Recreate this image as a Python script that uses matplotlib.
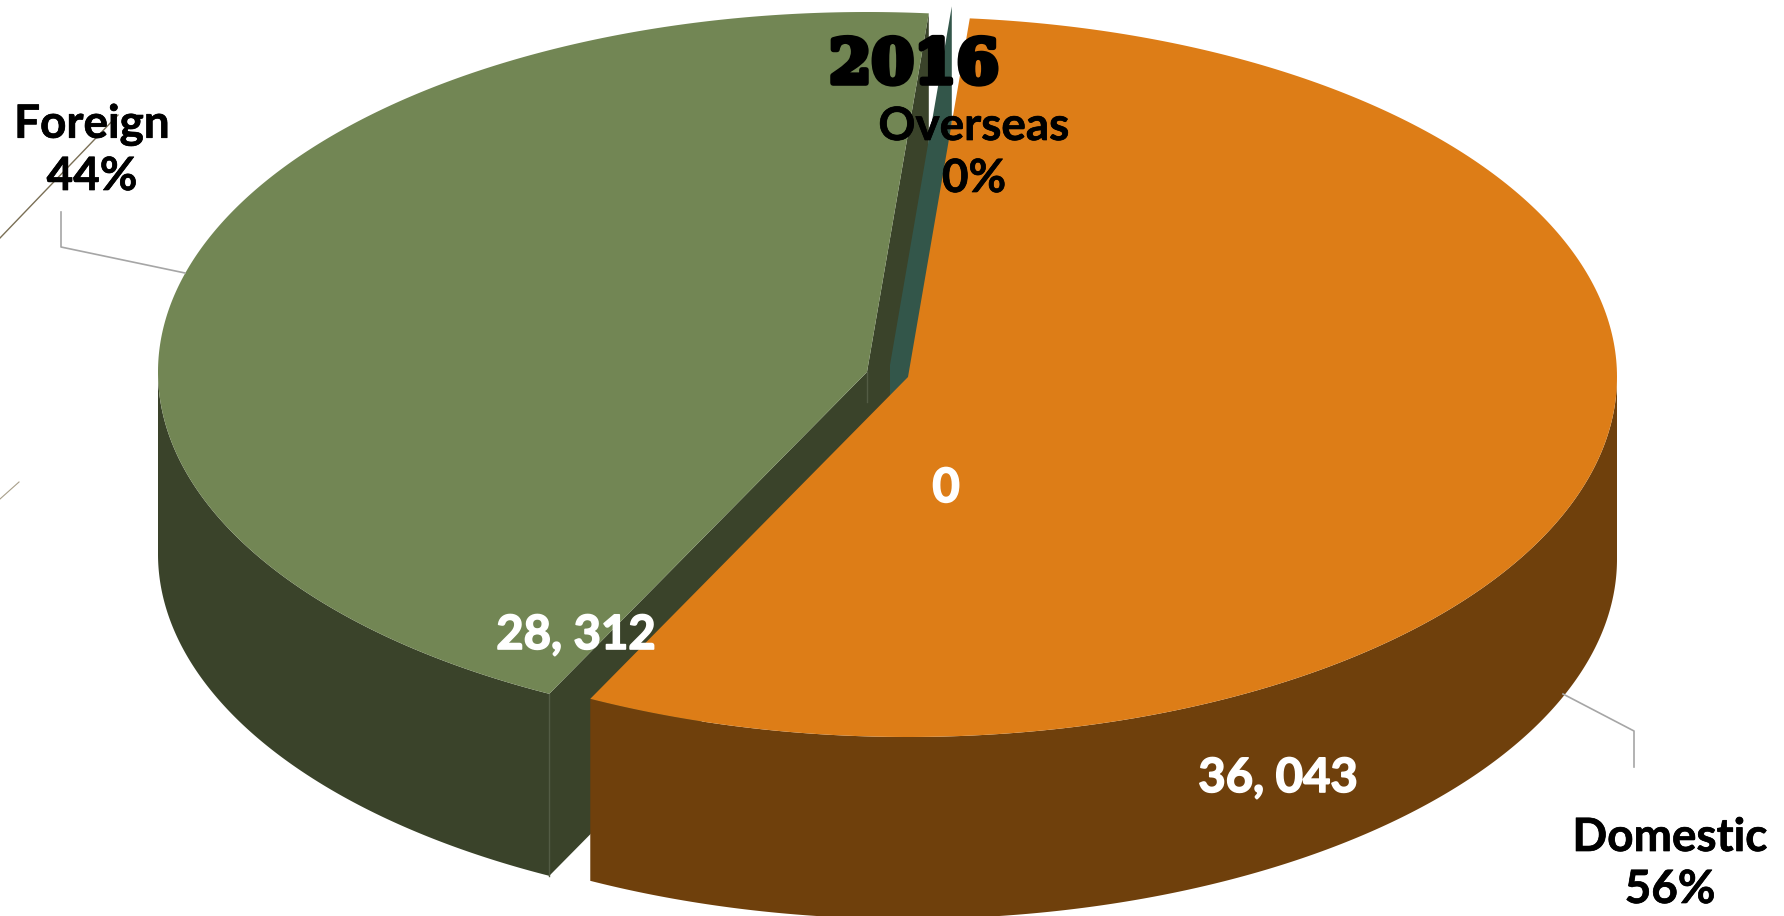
import numpy as np
import matplotlib
matplotlib.use('Agg')
from matplotlib import pyplot as plt
from matplotlib.patches import Polygon
import matplotlib.patheffects as pe

# chart data
categories = ['Domestic', 'Foreign', 'Overseas']
values = [36043, 28312, 0]
value_labels = ['36, 043', '28, 312', '0']
pct_labels = ['56%', '44%', '0%']
title = '2016'

# pie geometry, in pixels of the picture
rx, ry, depth = 709, 360, 182
start = 5.0
centers = [(908, 377), (867, 372), (890, 365)]
top_colors = ['#DD7D17', '#728654', '#33564A']
side_colors = ['#6F400C', '#3A432A', '#33564A']

fig = plt.figure(figsize=(17.84, 9.16), dpi=100)
ax = fig.add_axes([0, 0, 1, 1])
ax.set_xlim(0, 1784)
ax.set_ylim(916, 0)
ax.axis('off')


def rim(c, a0, a1, drop=0):
    # angles run clockwise from 12 o'clock
    a = np.radians(np.linspace(a0, a1, 300))
    return np.column_stack([c[0] + rx * np.sin(a), c[1] - ry * np.cos(a) + drop])


def radial_wall(c, a, color, z):
    edge = rim(c, a, a)[0]
    pts = [c, edge, (edge[0], edge[1] + depth), (c[0], c[1] + depth)]
    ax.add_patch(Polygon(pts, closed=True, fc=color, ec='none', zorder=z))


def outer_wall(c, a0, a1, color, z):
    pts = np.vstack([rim(c, a0, a1), rim(c, a1, a0, depth)])
    ax.add_patch(Polygon(pts, closed=True, fc=color, ec='none', zorder=z))


def top_face(c, a0, a1, color, z):
    pts = np.vstack([[c], rim(c, a0, a1)])
    ax.add_patch(Polygon(pts, closed=True, fc=color, ec='none', zorder=z))


total = sum(values)
spans = [v / total * 360 for v in values]
a_dom_end = start + spans[0]
a_for_end = a_dom_end + spans[1]

# walls first, back to front
radial_wall(centers[1], a_for_end, side_colors[1], 1)
radial_wall(centers[1], a_dom_end, side_colors[1], 2)
outer_wall(centers[1], a_dom_end, 270, side_colors[1], 2)
radial_wall(centers[2], start + spans[2], side_colors[2], 3)
top_face(centers[1], a_dom_end, a_for_end, top_colors[1], 4)
outer_wall(centers[0], 90, a_dom_end, side_colors[0], 5)
top_face(centers[0], start, a_dom_end, top_colors[0], 6)

# faint corner lines on the green slice
g_edge = rim(centers[1], a_dom_end, a_dom_end)[0]
ax.plot([g_edge[0], g_edge[0]], [g_edge[1], g_edge[1] + depth], color='#535C44', lw=1, zorder=3)
ax.plot([centers[1][0], centers[1][0]], [centers[1][1], centers[1][1] + 30], color='#535C44', lw=1, zorder=3)

# leader lines
ax.plot([61, 61, 185], [212, 247, 273], color='#A6A6A6', lw=1.2, zorder=7)
ax.plot([1563, 1634, 1634], [694, 731, 767], color='#A6A6A6', lw=1.2, zorder=7)
ax.plot([0, 118], [238, 115], color='#7A6F55', lw=1, zorder=7)
ax.plot([0, 19], [499, 482], color='#A89F8A', lw=0.8, zorder=7)

# data labels
for (x, y), s in zip([(1278, 778), (576, 635), (946, 488)], value_labels):
    ax.text(x, y, s, color='white', family='Lato', fontweight='bold', fontsize=34,
            ha='center', va='center', zorder=8,
            path_effects=[pe.withStroke(linewidth=1.2, foreground='white')])

# category labels
for (x, y), name, p in zip([(1670, 838), (92, 125), (974, 127)], categories, pct_labels):
    for yy, s in [(y, name), (y + 52, p)]:
        ax.text(x, yy, s, color='black', family='Lato', fontweight='bold', fontsize=33,
                ha='center', va='center', zorder=8,
                path_effects=[pe.withStroke(linewidth=0.5, foreground='black')])

ax.text(914, 66, title, family='DejaVu Serif', fontweight='bold', fontsize=44, color='black',
        ha='center', va='center', zorder=9,
        path_effects=[pe.withStroke(linewidth=4, foreground='black')])

fig.savefig('out.png', dpi=100)
